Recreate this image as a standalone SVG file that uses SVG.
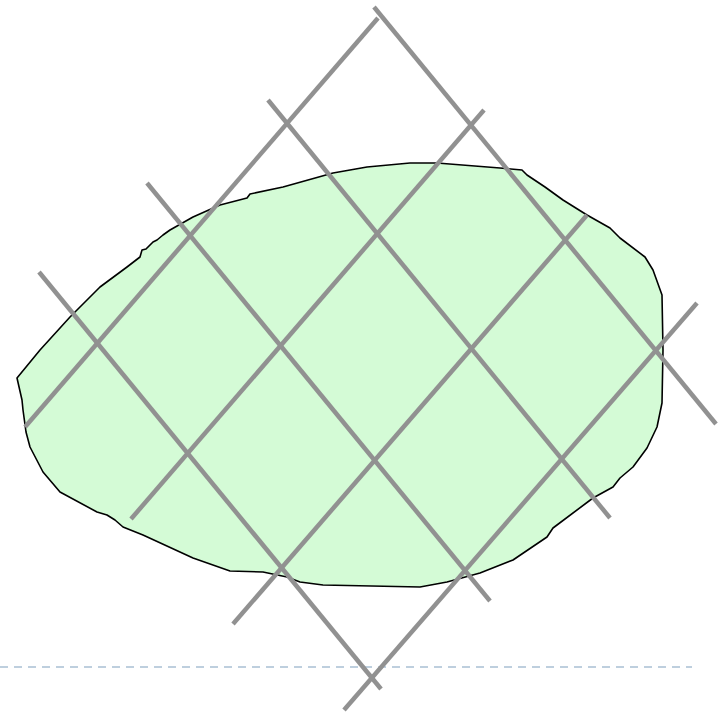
<svg xmlns="http://www.w3.org/2000/svg" width="728" height="712" viewBox="0 0 728 712">
<style>
.blob{fill:#d4fbd6;stroke:#000;stroke-width:1.6;stroke-linejoin:round}
.grid line{stroke:#919191;stroke-width:4.5}
.base{stroke:#a9c0d3;stroke-width:1.5;stroke-dasharray:8 6}
</style>
<rect width="728" height="712" fill="#fff"/>
<g id="region">
<path class="blob" d="M17,378 L40,350 L70,317 L100,287 L127,267 L140,257 L142,250 L146,249 L153,242 L157,240 L163,235 L170,230 L193,217 L220,205 L247,198 L250,194 L283,187 L333,173 L367,167 L410,163 L437,163 L500,168 L522,170 L527,175 L545,187 L563,200 L587,215 L610,228 L620,238 L645,257 L653,270 L662,295 L663,350 L662,403 L657,427 L647,448 L633,467 L620,478 L613,487 L593,498 L557,525 L553,528 L547,537 L513,560 L480,573 L447,582 L420,587 L323,585 L300,582 L287,577 L263,572 L230,571 L193,558 L143,535 L123,527 L115,520 L107,515 L97,512 L60,492 L43,472 L30,447 L26,432 L23,410 L22,400 Z"/>
</g>
<g id="base"><line class="base" x1="0" y1="667" x2="692" y2="667"/></g>
<g id="grid" class="grid">
<line x1="25" y1="427" x2="378" y2="18"/>
<line x1="131" y1="519" x2="484" y2="110"/>
<line x1="233" y1="624" x2="587" y2="215"/>
<line x1="344" y1="710" x2="697" y2="303"/>
<line x1="374" y1="7" x2="716" y2="424"/>
<line x1="268" y1="100" x2="610" y2="518"/>
<line x1="147" y1="183" x2="490" y2="601"/>
<line x1="39" y1="272" x2="381" y2="689"/>
</g>
</svg>
